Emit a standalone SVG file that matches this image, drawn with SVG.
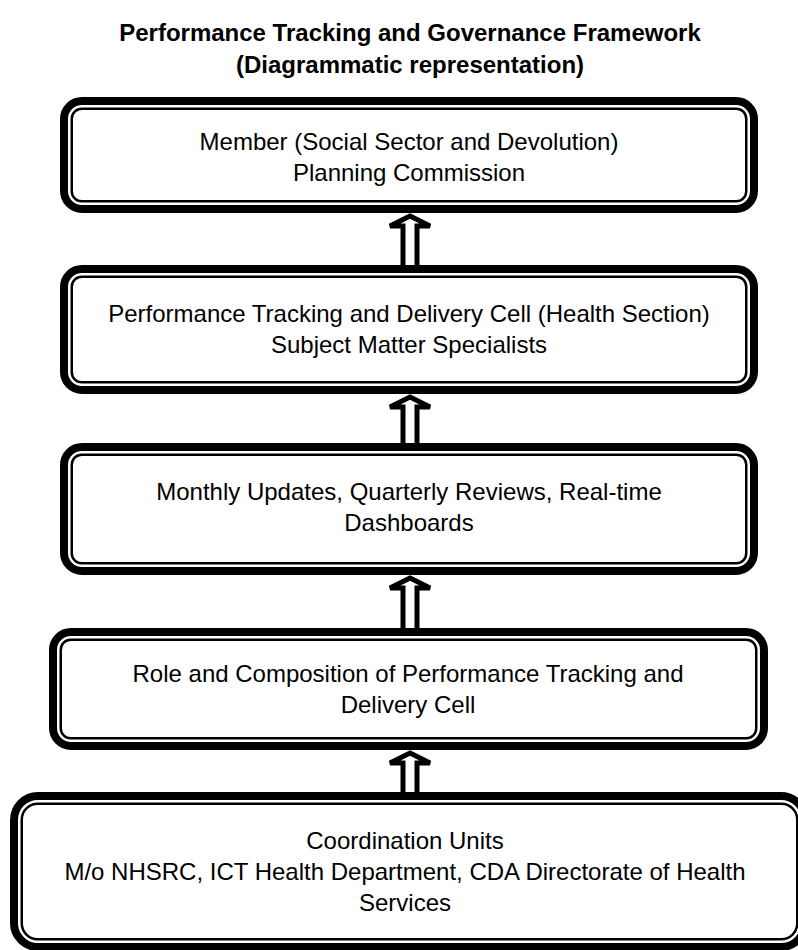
<svg xmlns="http://www.w3.org/2000/svg" width="798" height="950" viewBox="0 0 798 950">
<style>
.title{font-family:"Liberation Sans",Arial,sans-serif;font-weight:bold;font-size:24px;fill:#000;text-anchor:middle}
.t{font-family:"Liberation Sans",Arial,sans-serif;font-size:24px;fill:#000;text-anchor:middle}
.o{fill:#fff;stroke:#000;stroke-width:8}
.i{fill:none;stroke:#000;stroke-width:2.5}
.arr{fill:#fff;stroke:#000;stroke-width:5;stroke-linejoin:miter}
</style>
<rect width="798" height="950" fill="#fff"/>
<text class="title" x="410" y="41">Performance Tracking and Governance Framework</text>
<text class="title" x="410" y="73">(Diagrammatic representation)</text>
<g id="connectors">
<polygon class="arr" points="410,216 430,226 417,226 417,271 403,271 403,226 390,226"/>
<polygon class="arr" points="410,397 430,407 417,407 417,449 403,449 403,407 390,407"/>
<polygon class="arr" points="410,578 430,588 417,588 417,634 403,634 403,588 390,588"/>
<polygon class="arr" points="410,753 430,763 417,763 417,798 403,798 403,763 390,763"/>
</g>
<g id="node1">
<rect class="o" x="64" y="101" width="690" height="108" rx="18"/>
<rect class="i" x="71.75" y="108.75" width="674.5" height="92.5" rx="10"/>
<text class="t" x="409" y="150">Member (Social Sector and Devolution)</text>
<text class="t" x="409" y="181">Planning Commission</text>
</g>
<g id="node2">
<rect class="o" x="64" y="269" width="690" height="121" rx="18"/>
<rect class="i" x="71.75" y="276.75" width="674.5" height="105.5" rx="10"/>
<text class="t" x="409" y="322">Performance Tracking and Delivery Cell (Health Section)</text>
<text class="t" x="409" y="353">Subject Matter Specialists</text>
</g>
<g id="node3">
<rect class="o" x="64" y="447" width="690" height="124" rx="18"/>
<rect class="i" x="71.75" y="454.75" width="674.5" height="108.5" rx="10"/>
<text class="t" x="409" y="500">Monthly Updates, Quarterly Reviews, Real-time</text>
<text class="t" x="409" y="531">Dashboards</text>
</g>
<g id="node4">
<rect class="o" x="53" y="632" width="711" height="114" rx="18"/>
<rect class="i" x="60.75" y="639.75" width="695.5" height="98.5" rx="10"/>
<text class="t" x="408" y="682">Role and Composition of Performance Tracking and</text>
<text class="t" x="408" y="713">Delivery Cell</text>
</g>
<g id="node5">
<rect class="o" x="14" y="796" width="791" height="151" rx="24"/>
<rect class="i" x="21.75" y="803.75" width="775.5" height="135.5" rx="16"/>
<text class="t" x="405" y="849">Coordination Units</text>
<text class="t" x="405" y="880">M/o NHSRC, ICT Health Department, CDA Directorate of Health</text>
<text class="t" x="405" y="911">Services</text>
</g>
</svg>
